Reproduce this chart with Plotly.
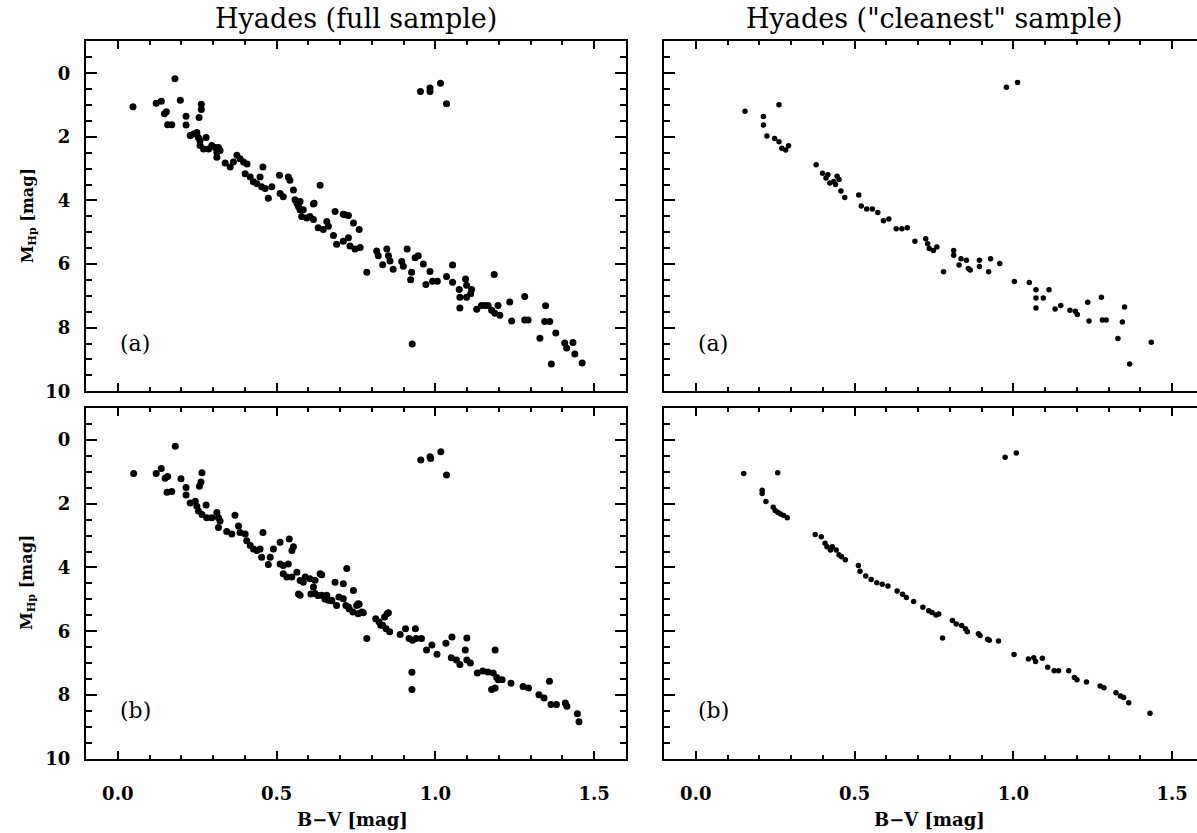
import plotly.graph_objects as go

# ---------------- data ----------------
# Panel (a), full sample
full_a_bv = [0.048, 0.180, 0.121, 0.137, 0.147, 0.153, 0.157, 0.170, 0.197, 0.215, 0.215, 0.263, 0.263, 0.256,
             0.228, 0.239, 0.249, 0.254, 0.259, 0.278,
             0.259, 0.270, 0.286, 0.296, 0.307, 0.317, 0.322, 0.312, 0.312,
             0.338, 0.354, 0.364, 0.375, 0.385, 0.396, 0.407,
             0.401, 0.417, 0.427, 0.438, 0.448, 0.457, 0.453, 0.464, 0.474, 0.485,
             0.509, 0.537, 0.542, 0.511, 0.521, 0.553, 0.558, 0.564, 0.569, 0.574, 0.579, 0.595, 0.605, 0.616,
             0.618, 0.637, 0.631, 0.647, 0.658, 0.663, 0.684, 0.715, 0.742,
             0.574, 0.584, 0.616, 0.679, 0.710, 0.726, 0.760,
             0.689, 0.710, 0.726, 0.731, 0.747, 0.763, 0.784,
             0.815, 0.820, 0.834, 0.847, 0.852, 0.857, 0.867,
             0.894, 0.899, 0.911, 0.925, 0.922, 0.936, 0.946, 0.962, 0.970, 0.983, 0.991, 1.006,
             0.927,
             1.035, 1.054, 1.054, 1.075, 1.077, 1.077, 1.095, 1.098, 1.098, 1.111, 1.114,
             1.130, 1.145, 1.156, 1.166, 1.177, 1.185, 1.187, 1.197, 1.203, 1.234, 1.240,
             1.281, 1.281, 1.292, 1.329, 1.347, 1.344, 1.360, 1.365, 1.379, 1.407, 1.413, 1.433, 1.439, 1.462,
             0.953, 0.983, 0.983, 1.016, 1.035]
full_a_mhp = [1.05, 0.17, 0.94, 0.88, 1.27, 1.21, 1.62, 1.62, 0.85, 1.35, 1.63, 0.97, 1.14, 1.39,
              1.96, 1.91, 1.86, 2.02, 2.12, 2.02,
              2.27, 2.38, 2.38, 2.27, 2.33, 2.33, 2.43, 2.48, 2.64,
              2.82, 2.95, 2.79, 2.58, 2.69, 2.79, 2.85,
              3.16, 3.26, 3.41, 3.47, 3.26, 2.95, 3.57, 3.62, 3.93, 3.57,
              3.21, 3.26, 3.36, 3.78, 3.88, 3.67, 3.98, 4.09, 4.19, 4.29, 4.50, 4.55, 4.50, 4.60,
              4.09, 3.52, 4.86, 4.91, 4.66, 4.81, 4.35, 4.45, 4.71,
              4.03, 4.29, 4.11, 5.10, 4.43, 4.47, 4.91,
              5.38, 5.28, 5.17, 5.43, 5.53, 5.48, 6.26,
              5.59, 5.74, 6.02, 5.53, 5.74, 5.90, 6.16,
              5.92, 6.07, 5.53, 6.26, 6.49, 5.80, 5.74, 6.00, 6.64, 6.23, 6.54, 6.54,
              8.51,
              6.39, 6.03, 6.57, 6.80, 7.04, 7.38, 6.47, 6.67, 7.04, 6.93, 6.80,
              7.42, 7.30, 7.30, 7.30, 7.45, 6.33, 7.55, 7.30, 7.61, 7.19, 7.79,
              7.02, 7.76, 7.76, 8.33, 7.31, 7.81, 7.81, 9.14, 8.17, 8.48, 8.64, 8.47, 8.83, 9.11,
              0.57, 0.46, 0.57, 0.31, 0.96]

# Panel (a), "cleanest" sample
clean_a_bv = [0.155, 0.262, 0.213, 0.213, 0.224, 0.248, 0.262, 0.271, 0.283, 0.292,
              0.379, 0.399, 0.410, 0.416, 0.422, 0.434, 0.445, 0.440, 0.451, 0.457, 0.469,
              0.513, 0.521, 0.538, 0.556, 0.573, 0.591, 0.608, 0.631, 0.649, 0.666,
              0.690, 0.724, 0.730, 0.735, 0.748, 0.759, 0.780,
              0.812, 0.812, 0.835, 0.829, 0.852, 0.858, 0.864, 0.893, 0.893, 0.922, 0.928, 0.957,
              1.003, 1.050, 1.071, 1.071, 1.071, 1.094, 1.112, 1.131, 1.149,
              1.178, 1.195, 1.201, 1.234, 1.238, 1.277, 1.280, 1.292, 1.329, 1.343, 1.350, 1.366, 1.434,
              0.978, 1.013]
clean_a_mhp = [1.19, 0.99, 1.36, 1.63, 1.97, 2.05, 2.15, 2.36, 2.41, 2.28,
               2.88, 3.14, 3.29, 3.19, 3.45, 3.40, 3.24, 3.50, 3.34, 3.70, 3.91,
               3.83, 4.17, 4.27, 4.27, 4.38, 4.64, 4.58, 4.89, 4.89, 4.86,
               5.28, 5.20, 5.36, 5.51, 5.57, 5.46, 6.24,
               5.57, 5.72, 5.83, 6.03, 5.88, 6.14, 6.19, 5.88, 6.08, 6.24, 5.83, 5.98,
               6.55, 6.58, 6.81, 7.07, 7.38, 7.07, 6.81, 7.41, 7.30,
               7.45, 7.48, 7.59, 7.20, 7.79, 7.04, 7.76, 7.76, 8.34, 7.82, 7.35, 9.14, 8.46,
               0.44, 0.29]

# Panel (b), full sample
full_b_bv = [0.050, 0.181, 0.121, 0.137, 0.149, 0.157, 0.155, 0.170, 0.199, 0.215, 0.215, 0.265, 0.262, 0.257,
             0.228, 0.244, 0.249, 0.254, 0.265, 0.278, 0.280, 0.296, 0.312, 0.317, 0.322, 0.317,
             0.343, 0.359, 0.369, 0.380, 0.385, 0.401, 0.406, 0.417, 0.427, 0.438, 0.448, 0.457, 0.453, 0.474, 0.480,
             0.490, 0.511, 0.540, 0.553, 0.548, 0.511, 0.521, 0.537, 0.521, 0.532, 0.548, 0.564, 0.574, 0.574,
             0.584, 0.605, 0.616, 0.621, 0.637, 0.642, 0.658, 0.663, 0.684, 0.689, 0.710, 0.710, 0.721, 0.726,
             0.742, 0.752,
             0.590, 0.621, 0.642, 0.673, 0.760, 0.773, 0.852,
             0.569, 0.608, 0.630, 0.652, 0.674, 0.696, 0.718, 0.729, 0.740, 0.757, 0.757, 0.768,
             0.784, 0.812, 0.823, 0.834, 0.845, 0.848, 0.856, 0.840, 0.828,
             0.889, 0.906, 0.917, 0.928, 0.937, 0.939, 0.956,
             0.926, 0.926,
             0.972, 0.989, 1.005,
             1.033, 1.052, 1.050, 1.066, 1.077, 1.094, 1.099, 1.099, 1.110,
             1.132, 1.149, 1.165, 1.182, 1.188, 1.193, 1.198, 1.177, 1.188, 1.210, 1.238,
             1.276, 1.293, 1.326, 1.342, 1.359, 1.364, 1.381, 1.409, 1.414, 1.447, 1.452,
             0.954, 0.983, 0.985, 1.017, 1.035]
full_b_mhp = [1.05, 0.20, 1.05, 0.90, 1.20, 1.15, 1.64, 1.62, 1.22, 1.49, 1.73, 1.03, 1.32, 1.45,
              1.98, 1.92, 2.08, 2.23, 2.34, 2.04, 2.44, 2.44, 2.28, 2.44, 2.54, 2.75,
              2.87, 2.95, 2.36, 2.70, 2.90, 2.95, 3.16, 3.31, 3.42, 3.47, 3.42, 2.90, 3.68, 3.91, 3.68,
              3.42, 3.21, 3.11, 3.35, 3.47, 3.89, 3.94, 3.89, 4.20, 4.30, 4.30, 4.15, 4.41, 4.87,
              4.46, 4.35, 4.61, 4.82, 4.20, 4.87, 4.87, 5.03, 4.46, 5.19, 4.51, 4.98, 4.03, 5.24,
              4.72, 5.19,
              4.30, 4.40, 4.23, 5.03, 5.15, 5.42, 5.42,
              4.83, 4.83, 4.88, 4.99, 5.04, 4.93, 5.19, 5.30, 5.40, 5.14, 5.45, 5.40,
              6.23, 5.61, 5.71, 5.81, 5.92, 5.45, 6.02, 5.55, 5.81,
              6.10, 5.92, 6.23, 6.28, 5.92, 6.23, 6.23,
              7.29, 7.83,
              6.59, 6.43, 6.72,
              6.38, 6.18, 6.83, 6.90, 7.04, 6.59, 6.21, 6.90, 7.00,
              7.31, 7.25, 7.28, 7.31, 6.59, 7.45, 7.52, 7.83, 7.78, 7.52, 7.63,
              7.73, 7.78, 7.99, 8.09, 7.57, 8.30, 8.30, 8.25, 8.35, 8.59, 8.84,
              0.63, 0.53, 0.58, 0.37, 1.10]

# Panel (b), "cleanest" sample
clean_b_bv = [0.151, 0.258, 0.209, 0.209, 0.221, 0.244, 0.250, 0.258, 0.267, 0.277, 0.288,
              0.376, 0.395, 0.407, 0.413, 0.424, 0.430, 0.442, 0.451, 0.459, 0.471,
              0.512, 0.517, 0.535, 0.552, 0.570, 0.587, 0.605, 0.634, 0.651, 0.663, 0.686,
              0.715, 0.733, 0.744, 0.756, 0.765, 0.777,
              0.808, 0.820, 0.837, 0.849, 0.855, 0.890, 0.895, 0.919, 0.924, 0.953,
              1.002, 1.047, 1.064, 1.070, 1.091, 1.108, 1.128, 1.142, 1.174, 1.192, 1.200, 1.230,
              1.273, 1.285, 1.323, 1.337, 1.347, 1.363, 1.430,
              0.974, 1.009]
clean_b_mhp = [1.05, 1.03, 1.58, 1.68, 1.93, 2.11, 2.21, 2.27, 2.32, 2.37, 2.44,
               2.97, 3.04, 3.24, 3.35, 3.45, 3.35, 3.45, 3.60, 3.66, 3.76,
               3.94, 4.12, 4.27, 4.38, 4.48, 4.53, 4.58, 4.74, 4.84, 4.94, 5.07,
               5.25, 5.36, 5.41, 5.49, 5.46, 6.21,
               5.66, 5.77, 5.82, 5.92, 6.02, 6.08, 6.13, 6.25, 6.28, 6.31,
               6.73, 6.87, 6.83, 6.95, 6.85, 7.13, 7.24, 7.24, 7.24, 7.45, 7.52, 7.59,
               7.72, 7.77, 7.93, 8.03, 8.08, 8.24, 8.57,
               0.54, 0.41]

x_tick_vals = [0.0, 0.5, 1.0, 1.5]
x_tick_text = ["0.0", "0.5", "1.0", "1.5"]
y_tick_vals = [0, 2, 4, 6, 8, 10]
y_tick_text = ["0", "2", "4", "6", "8", "10"]

col_titles = ["Hyades (full sample)", "Hyades (\"cleanest\" sample)"]
panel_labels = ["(a)", "(b)"]
x_title = "B\u2212V [mag]"
y_title = "M<sub>Hp</sub> [mag]"

# ---------------- layout geometry ----------------
W, H = 1197, 833
FONT = "DejaVu Serif"
left_dom = [86 / W, 626 / W]
right_dom = [664 / W, 1.0]
top_dom = [1 - 396 / H, 1 - 42 / H]
bot_dom = [1 - 768 / H, 1 - 413 / H]
px_per_unit = 540 / 1.7
right_end = -0.1 + (W - 664) / px_per_unit

fig = go.Figure()

panels = [
    ("x", "y", full_a_bv, full_a_mhp, 7),
    ("x2", "y2", clean_a_bv, clean_a_mhp, 5.5),
    ("x3", "y3", full_b_bv, full_b_mhp, 7),
    ("x4", "y4", clean_b_bv, clean_b_mhp, 5.5),
]
for xa, ya, xs, ys, ms in panels:
    fig.add_trace(go.Scatter(x=xs, y=ys, mode="markers", xaxis=xa, yaxis=ya,
                             marker=dict(color="black", size=ms, line=dict(width=0)),
                             showlegend=False, hoverinfo="x+y"))

tickfont = dict(family=FONT, size=18, color="black", weight="bold")


def xaxis(dom, anchor, rng, labels):
    return dict(domain=dom, anchor=anchor, range=rng, showgrid=False, zeroline=False,
                showline=True, linecolor="black", linewidth=2, mirror="ticks",
                ticks="inside", ticklen=8, tickwidth=2, tickcolor="black",
                tickvals=x_tick_vals, ticktext=x_tick_text, showticklabels=labels,
                tickfont=tickfont, ticklabelstandoff=18,
                minor=dict(ticks="inside", ticklen=4, tickwidth=1.5, tickcolor="black",
                           tick0=0, dtick=0.1, showgrid=False))


def yaxis(dom, anchor, labels, mirror):
    return dict(domain=dom, anchor=anchor, range=[10, -1], showgrid=False, zeroline=False,
                showline=True, linecolor="black", linewidth=2, mirror=mirror,
                ticks="inside", ticklen=11, tickwidth=2, tickcolor="black",
                tickvals=y_tick_vals, ticktext=y_tick_text, showticklabels=labels,
                tickfont=tickfont, ticklabelstandoff=10,
                minor=dict(ticks="inside", ticklen=6, tickwidth=1.5, tickcolor="black",
                           tick0=0, dtick=0.5, showgrid=False))


fig.update_layout(
    width=W, height=H, margin=dict(l=0, r=0, t=0, b=0),
    paper_bgcolor="white", plot_bgcolor="white",
    xaxis=xaxis(left_dom, "y", [-0.1, 1.6], False),
    xaxis2=xaxis(right_dom, "y2", [-0.1, right_end], False),
    xaxis3=xaxis(left_dom, "y3", [-0.1, 1.6], True),
    xaxis4=xaxis(right_dom, "y4", [-0.1, right_end], True),
    yaxis=yaxis(top_dom, "x", True, "ticks"),
    yaxis2=yaxis(top_dom, "x2", False, False),
    yaxis3=yaxis(bot_dom, "x3", True, "ticks"),
    yaxis4=yaxis(bot_dom, "x4", False, False),
)

ann = []
# column titles
for cx, t in zip([356 / W, 934 / W], col_titles):
    ann.append(dict(text=t, x=cx, y=1 - 19 / H, xref="paper", yref="paper",
                    showarrow=False, xanchor="center", yanchor="middle",
                    font=dict(family=FONT, size=27, color="black")))
# x titles
for cx in [352 / W, 929 / W]:
    ann.append(dict(text=x_title, x=cx, y=0.0, xref="paper", yref="paper",
                    showarrow=False, xanchor="center", yanchor="bottom", yshift=-9,
                    font=dict(family=FONT, size=18, color="black", weight="bold")))
# y titles
for cy in [1 - 219 / H, 1 - 590 / H]:
    ann.append(dict(text=y_title, x=28 / W, y=cy, xref="paper", yref="paper",
                    showarrow=False, xanchor="center", yanchor="middle", textangle=-90,
                    font=dict(family=FONT, size=16, color="black", weight="bold")))
# panel labels
for xr, yr, lab in [("x", "y", panel_labels[0]), ("x2", "y2", panel_labels[0]),
                    ("x3", "y3", panel_labels[1]), ("x4", "y4", panel_labels[1])]:
    ann.append(dict(text=lab, x=0.0, y=8.5, xref=xr, yref=yr, showarrow=False,
                    xanchor="left", yanchor="middle",
                    font=dict(family=FONT, size=22, color="black")))
fig.update_layout(annotations=ann)

fig.write_html("out.html")
